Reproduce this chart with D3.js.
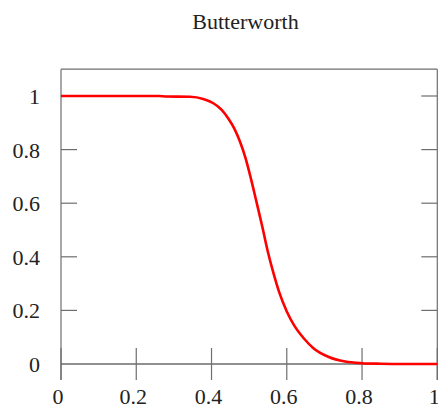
<!DOCTYPE html>
<html>
<head>
<meta charset="utf-8">
<script src="https://cdn.jsdelivr.net/npm/d3@7"></script>
<style>
  html, body { margin: 0; padding: 0; background: #fff; }
  svg { display: block; }
</style>
</head>
<body>
<svg id="chart" width="438" height="406"></svg>
<script>
const title = "Butterworth";
const freq = [0, 0.1, 0.2365, 0.26, 0.28, 0.343, 0.378, 0.405, 0.427, 0.445, 0.46, 0.475, 0.49, 0.505, 0.52, 0.535, 0.55, 0.565, 0.58, 0.60, 0.62, 0.645, 0.67, 0.71, 0.755, 0.80, 0.85, 0.9, 1.0];
const gain = [1.0, 1.0, 1.0, 1.0, 0.998, 0.997, 0.989, 0.973, 0.948, 0.915, 0.880, 0.832, 0.770, 0.690, 0.602, 0.512, 0.417, 0.337, 0.267, 0.196, 0.143, 0.096, 0.060, 0.027, 0.009, 0.003, 0.001, 0.0, 0.0];
const xTicks = [0, 0.2, 0.4, 0.6, 0.8, 1];
const xTickLabels = ["0", "0.2", "0.4", "0.6", "0.8", "1"];
const yTicks = [0, 0.2, 0.4, 0.6, 0.8, 1];
const yTickLabels = ["0", "0.2", "0.4", "0.6", "0.8", "1"];

const FONT = "'Liberation Serif', 'DejaVu Serif', 'Times New Roman', serif";
const svg = d3.select("#chart");
const x = d3.scaleLinear().domain([0, 1]).range([61, 437.3]);
const y = d3.scaleLinear().domain([0, 1]).range([364, 96]);
const yTop = 1.1, yBottom = -0.06;
const tickLen = 16;
const borderColor = "#6e6e6e";

svg.append("line").attr("x1", x(0)).attr("x2", x(1)).attr("y1", y(yTop)).attr("y2", y(yTop))
  .attr("stroke", borderColor).attr("stroke-width", 1.2);
svg.append("line").attr("x1", x(0)).attr("x2", x(0)).attr("y1", y(yTop)).attr("y2", y(yBottom))
  .attr("stroke", borderColor).attr("stroke-width", 1.2);
svg.append("line").attr("x1", x(1)).attr("x2", x(1)).attr("y1", y(yTop)).attr("y2", y(yBottom))
  .attr("stroke", borderColor).attr("stroke-width", 1.2);

svg.append("line").attr("x1", x(0)).attr("x2", x(1)).attr("y1", y(0)).attr("y2", y(0))
  .attr("stroke", "#222").attr("stroke-width", 1.2);

svg.selectAll(".xt").data(xTicks).enter().append("line")
  .attr("x1", d => x(d)).attr("x2", d => x(d))
  .attr("y1", y(0) - tickLen).attr("y2", y(0) + tickLen)
  .attr("stroke", borderColor).attr("stroke-width", 1.2);

svg.selectAll(".ytl").data(yTicks.filter(d => d !== 0)).enter().append("line")
  .attr("x1", x(0)).attr("x2", x(0) + tickLen)
  .attr("y1", d => y(d)).attr("y2", d => y(d))
  .attr("stroke", borderColor).attr("stroke-width", 1.2);
svg.selectAll(".ytr").data(yTicks.filter(d => d !== 0)).enter().append("line")
  .attr("x1", x(1) - tickLen).attr("x2", x(1))
  .attr("y1", d => y(d)).attr("y2", d => y(d))
  .attr("stroke", borderColor).attr("stroke-width", 1.2);

svg.selectAll(".yl").data(yTicks).enter().append("text")
  .attr("x", 40).attr("y", d => y(d) + 8)
  .attr("text-anchor", "end").attr("font-size", 22)
  .attr("font-family", FONT).attr("fill", "#222")
  .text((d, i) => yTickLabels[i]);

svg.selectAll(".xl").data(xTicks).enter().append("text")
  .attr("x", d => x(d) - 3).attr("y", 404)
  .attr("text-anchor", "middle").attr("font-size", 22)
  .attr("font-family", FONT).attr("fill", "#222")
  .text((d, i) => xTickLabels[i]);

svg.append("text").attr("x", 245.5).attr("y", 29)
  .attr("text-anchor", "middle").attr("font-size", 22)
  .attr("font-family", FONT).attr("fill", "#222").text(title);

const pts = freq.map((f, i) => [f, gain[i]]);
const line = d3.line().x(d => x(d[0])).y(d => y(d[1])).curve(d3.curveMonotoneX);
svg.append("path").datum(pts).attr("d", line)
  .attr("fill", "none").attr("stroke", "#ff0000").attr("stroke-width", 2.6)
  .attr("stroke-linejoin", "round");
</script>
</body>
</html>
